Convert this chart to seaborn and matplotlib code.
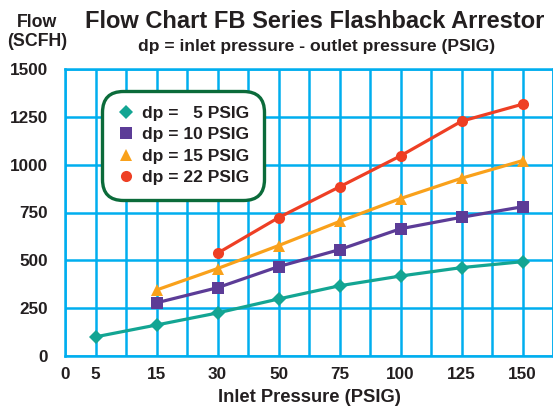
import numpy as np
import pandas as pd
import matplotlib
matplotlib.use("Agg")
import matplotlib.pyplot as plt
import seaborn as sns

# pressure ticks and where they sit on the (uneven) grid
tick_pressure = [0, 5, 15, 30, 50, 75, 100, 125, 150]
tick_slot = [0, 1, 3, 5, 7, 9, 11, 13, 15]

# flow (SCFH), per dp series
p_dp5 = [5, 15, 30, 50, 75, 100, 125, 150]
f_dp5 = [100, 162, 225, 298, 367, 418, 462, 493]
p_dp10 = [15, 30, 50, 75, 100, 125, 150]
f_dp10 = [278, 357, 467, 556, 665, 725, 780]
p_dp15 = [15, 30, 50, 75, 100, 125, 150]
f_dp15 = [345, 457, 577, 703, 823, 929, 1021]
p_dp22 = [30, 50, 75, 100, 125, 150]
f_dp22 = [537, 723, 884, 1046, 1227, 1316]

labels = ["dp =   5 PSIG", "dp = 10 PSIG", "dp = 15 PSIG", "dp = 22 PSIG"]
colors = ["#13A593", "#5C3C97", "#F9A11B", "#EE3F24"]
markers = ["D", "s", "^", "o"]
msizes = [7, 8.5, 9, 8]

sns.set_style("white")
plt.rcParams["font.family"] = ["Liberation Sans", "DejaVu Sans"]
plt.rcParams["font.weight"] = "bold"
txt = "#231F20"
grid_c = "#00AEEF"

# piecewise-linear x scale: pressure -> grid slot
sp = tick_pressure + [175]
ss = tick_slot + [17]
fwd = lambda x: np.interp(x, sp, ss)
inv = lambda s: np.interp(s, ss, sp)

fig = plt.figure(figsize=(5.53, 4.07), dpi=100)
ax = fig.add_axes([65 / 553, 1 - 356 / 407, 488 / 553, 287 / 407])
ax.set_xscale("function", functions=(fwd, inv))

series = [(p_dp5, f_dp5), (p_dp10, f_dp10), (p_dp15, f_dp15), (p_dp22, f_dp22)]
for (p, f), lab, c, m, ms in zip(series, labels, colors, markers, msizes):
    df = pd.DataFrame({"Pressure": p, "Flow": f})
    sns.lineplot(data=df, x="Pressure", y="Flow", ax=ax, color=c, marker=m,
                 markersize=ms, markeredgewidth=0, linewidth=2.3, label=lab)

ax.set_xlim(0, inv(16))
ax.set_ylim(0, 1500)
ax.set_xticks(tick_pressure)
ax.set_xticklabels([str(v) for v in tick_pressure])
ax.set_xticks([inv(s) for s in range(2, 17, 2)], minor=True)
ax.set_yticks(range(0, 1501, 250))
ax.grid(True, which="both", axis="x", color=grid_c, linewidth=1.8)
ax.grid(True, which="major", axis="y", color=grid_c, linewidth=1.8)
ax.set_axisbelow(True)
for s in ax.spines.values():
    s.set_color(grid_c)
    s.set_linewidth(1.8)
ax.tick_params(axis="both", which="both", color=grid_c, width=1.8, length=4,
               labelsize=12.3, labelcolor=txt, pad=4)
ax.tick_params(axis="y", pad=8)
for t in ax.get_xticklabels() + ax.get_yticklabels():
    t.set_fontweight("bold")

ax.set_xlabel("Inlet Pressure (PSIG)", fontsize=13.2, fontweight="bold", color=txt, labelpad=5)
ax.set_ylabel("")

leg = ax.legend(loc="upper left", bbox_to_anchor=(0.076, 0.923), frameon=True,
                prop={"weight": "bold", "size": 12.5}, labelcolor=txt,
                handlelength=1.0, handletextpad=0.45, labelspacing=0.36,
                borderpad=0.85, borderaxespad=0)
fr = leg.get_frame()
fr.set_edgecolor("#0B6B3A")
fr.set_linewidth(2.4)
fr.set_facecolor("white")
fr.set_alpha(1)
fr.set_boxstyle("round,pad=0,rounding_size=1.2")
for h in leg.legend_handles:
    h.set_linestyle("none")

fig.text(315 / 553, 1 - 21 / 407, "Flow Chart FB Series Flashback Arrestor",
         ha="center", va="center", fontsize=17, fontweight="bold", color=txt)
fig.text(317 / 553, 1 - 47 / 407, "dp = inlet pressure - outlet pressure (PSIG)",
         ha="center", va="center", fontsize=12.6, fontweight="bold", color=txt)
fig.text(37 / 553, 1 - 32 / 407, "Flow\n(SCFH)", ha="center", va="center",
         fontsize=12.8, fontweight="bold", color=txt, linespacing=1.2)

fig.savefig("out.png", dpi=100)
